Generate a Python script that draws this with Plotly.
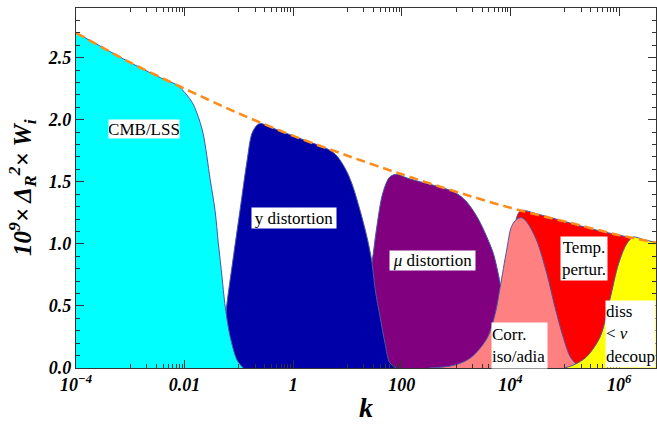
import plotly.graph_objects as go

# ---------------- data ----------------
# log10(k) positions and values of 10^9 x Delta_R^2 x W_i
env_logk = [-4, -3, -2, -1, 0, 1, 2, 3, 4, 5, 6, 6.68]
env_val = [2.70, 2.46, 2.25, 2.05, 1.87, 1.71, 1.56, 1.42, 1.29, 1.18, 1.07, 1.01]

cyan_logk = [-4, -3.5, -3, -2.5, -2.3, -2.14, -1.96, -1.86, -1.77, -1.66, -1.53, -1.44,
             -1.38, -1.31, -1.26, -1.16, -1.03, -0.92]
cyan_val = [2.70, 2.58, 2.46, 2.35, 2.31, 2.28, 2.20, 2.14, 2.05, 1.89, 1.52, 1.27,
            1.01, 0.73, 0.52, 0.25, 0.06, 0.0]

navy_logk = [-1.55, -1.45, -1.38, -1.31, -1.26, -1.22, -1.11, -0.98, -0.85, -0.76, -0.66,
             -0.6, -0.3, 0.0, 0.3, 0.5, 0.65, 0.78, 0.9, 1.0, 1.1, 1.23, 1.36, 1.45, 1.51,
             1.60, 1.69, 1.78, 1.9]
navy_val = [0.0, 0.02, 0.08, 0.2, 0.35, 0.52, 0.87, 1.27, 1.67, 1.89, 1.96,
            1.97, 1.92, 1.87, 1.82, 1.79, 1.76, 1.72, 1.65, 1.57, 1.46, 1.27, 1.05, 0.85, 0.63,
            0.41, 0.20, 0.04, 0.0]

purple_logk = [1.0, 1.15, 1.3, 1.45, 1.54, 1.65, 1.78, 1.91, 2.1, 2.34, 2.6, 2.8, 2.95, 3.08,
               3.2, 3.31, 3.42, 3.52, 3.6, 3.68, 3.75, 3.81, 3.9, 4.0, 4.1, 4.25]
purple_val = [0.0, 0.15, 0.5, 0.85, 1.14, 1.41, 1.54, 1.56, 1.53, 1.50, 1.47, 1.445, 1.42, 1.385,
              1.335, 1.27, 1.19, 1.10, 1.02, 0.93, 0.81, 0.68, 0.45, 0.22, 0.08, 0.0]

red_logk = [3.7, 3.9, 4.0, 4.08, 4.15, 4.21, 4.5, 5.0, 5.5, 6.0, 6.68]
red_val = [0.0, 0.4, 0.85, 1.15, 1.25, 1.27, 1.24, 1.18, 1.12, 1.07, 1.01]

pink_logk = [2.5, 2.94, 3.26, 3.57, 3.72, 3.81, 3.93, 4.02, 4.12, 4.21, 4.31, 4.48, 4.67,
             4.82, 4.97, 5.10, 5.19, 5.3]
pink_val = [0.0, 0.02, 0.08, 0.24, 0.44, 0.65, 0.95, 1.14, 1.20, 1.21, 1.17, 1.03, 0.76,
            0.49, 0.25, 0.09, 0.04, 0.0]

yellow_logk = [5.0, 5.19, 5.40, 5.65, 5.83, 5.99, 6.14, 6.26, 6.45, 6.68]
yellow_val = [0.0, 0.03, 0.09, 0.25, 0.55, 0.84, 1.00, 1.055, 1.035, 1.01]

x_tick_vals = [1e-4, 1e-2, 1, 1e2, 1e4, 1e6]
x_tick_text = ["10<sup>\u22124</sup>", "0.01", "1", "100", "10<sup>4</sup>", "10<sup>6</sup>"]
y_tick_vals = [0.0, 0.5, 1.0, 1.5, 2.0, 2.5]
y_tick_text = ["0.0", "0.5", "1.0", "1.5", "2.0", "2.5"]

# minor tick positions (odd decades carry 1..9 x 10^d, as in the reference)
x_minor_vals = [m * 10.0 ** d for d in (-3, -1, 1, 3, 5) for m in range(1, 10)]
y_minor_vals = [i / 10 for i in range(0, 30)]

# ---------------- figure ----------------
SERIF = "Liberation Serif"
EDGE = "#4a56a6"

def k_of(logs):
    return [10 ** v for v in logs]

fig = go.Figure()

regions = [
    (red_logk, red_val, "#ff0000"),
    (purple_logk, purple_val, "#800080"),
    (navy_logk, navy_val, "#0000a8"),
    (cyan_logk, cyan_val, "#00ffff"),
    (pink_logk, pink_val, "#ff8080"),
    (yellow_logk, yellow_val, "#ffff00"),
]
for lk, vals, col in regions:
    fig.add_trace(go.Scatter(
        x=k_of(lk), y=vals, mode="lines", fill="tozeroy", fillcolor=col,
        line=dict(color=EDGE, width=1, shape="spline", smoothing=0.9),
        hoverinfo="skip", showlegend=False))

fig.add_trace(go.Scatter(
    x=k_of(env_logk), y=env_val, mode="lines",
    line=dict(color="#ff8c1a", width=2.6, dash="9px,5px", shape="spline", smoothing=0.8),
    hoverinfo="skip", showlegend=False))

lab_font = dict(family=SERIF, size=17, color="black")
labels = [
    (-2.74, 1.925, "CMB/LSS", 70, 18, "center"),
    (0.02, 1.208, "y distortion", 84, 20, "center"),
    (2.556, 0.862, "<i>\u03bc</i> distortion", 85, 19, "center"),
    (4.158, 0.185, "Corr.<br>iso/adia", 55, 45, "left"),
    (5.346, 0.886, "Temp.<br>pertur.", 46, 43, "center"),
    (6.203, 0.27, "diss<br>&lt; <i>\u03bd</i><br>decoup", 49, 66, "left"),
]
for lx, ly, txt, w, h, al in labels:
    fig.add_annotation(x=lx, y=ly, xref="x", yref="y", text=txt, showarrow=False,
                       bgcolor="white", borderpad=0, width=w, height=h, align=al,
                       valign="middle", font=lab_font)

# axis titles
fig.add_annotation(x=-0.093, y=0.50, xref="paper", yref="paper", textangle=-90,
                   xanchor="center", yanchor="middle",
                   text="10<sup>9</sup>\u00d7 \u0394<sub><i>R</i></sub><sup>2</sup>\u00d7 <i>W<sub>i</sub></i>",
                   showarrow=False,
                   font=dict(family=SERIF, size=25, color="black", weight="bold", style="italic"))
fig.add_annotation(x=0.5, y=-0.111, xref="paper", yref="paper", text="k", showarrow=False,
                   xanchor="center", yanchor="middle",
                   font=dict(family=SERIF, size=28, color="black", weight="bold", style="italic"))

tick_font = dict(family=SERIF, size=18, color="black", weight="bold", style="italic")
fig.update_xaxes(type="log", range=[-4, 6.68], tickmode="array", tickvals=x_tick_vals,
                 ticktext=x_tick_text, ticks="inside", ticklen=8, tickwidth=1,
                 tickcolor="#333", showline=True, linecolor="#333", linewidth=1.2,
                 mirror="allticks", showgrid=False, zeroline=False, tickfont=tick_font,
                 minor=dict(ticks="inside", ticklen=4, tickcolor="#333", tickmode="array",
                            tickvals=x_minor_vals, showgrid=False))
fig.update_yaxes(range=[0, 2.9], tickmode="array", tickvals=y_tick_vals,
                 ticktext=y_tick_text, ticks="inside", ticklen=8, tickwidth=1,
                 tickcolor="#333", showline=True, linecolor="#333", linewidth=1.2,
                 mirror="allticks", showgrid=False, zeroline=False, tickfont=tick_font,
                 minor=dict(ticks="inside", ticklen=4, tickcolor="#333", tickmode="array",
                            tickvals=y_minor_vals, showgrid=False))

fig.update_layout(width=657, height=428, margin=dict(l=76, r=1, t=8, b=60),
                  plot_bgcolor="white", paper_bgcolor="white")

fig.write_html("out.html", config={"displayModeBar": False},
               post_script="document.body.style.margin='0px';")
